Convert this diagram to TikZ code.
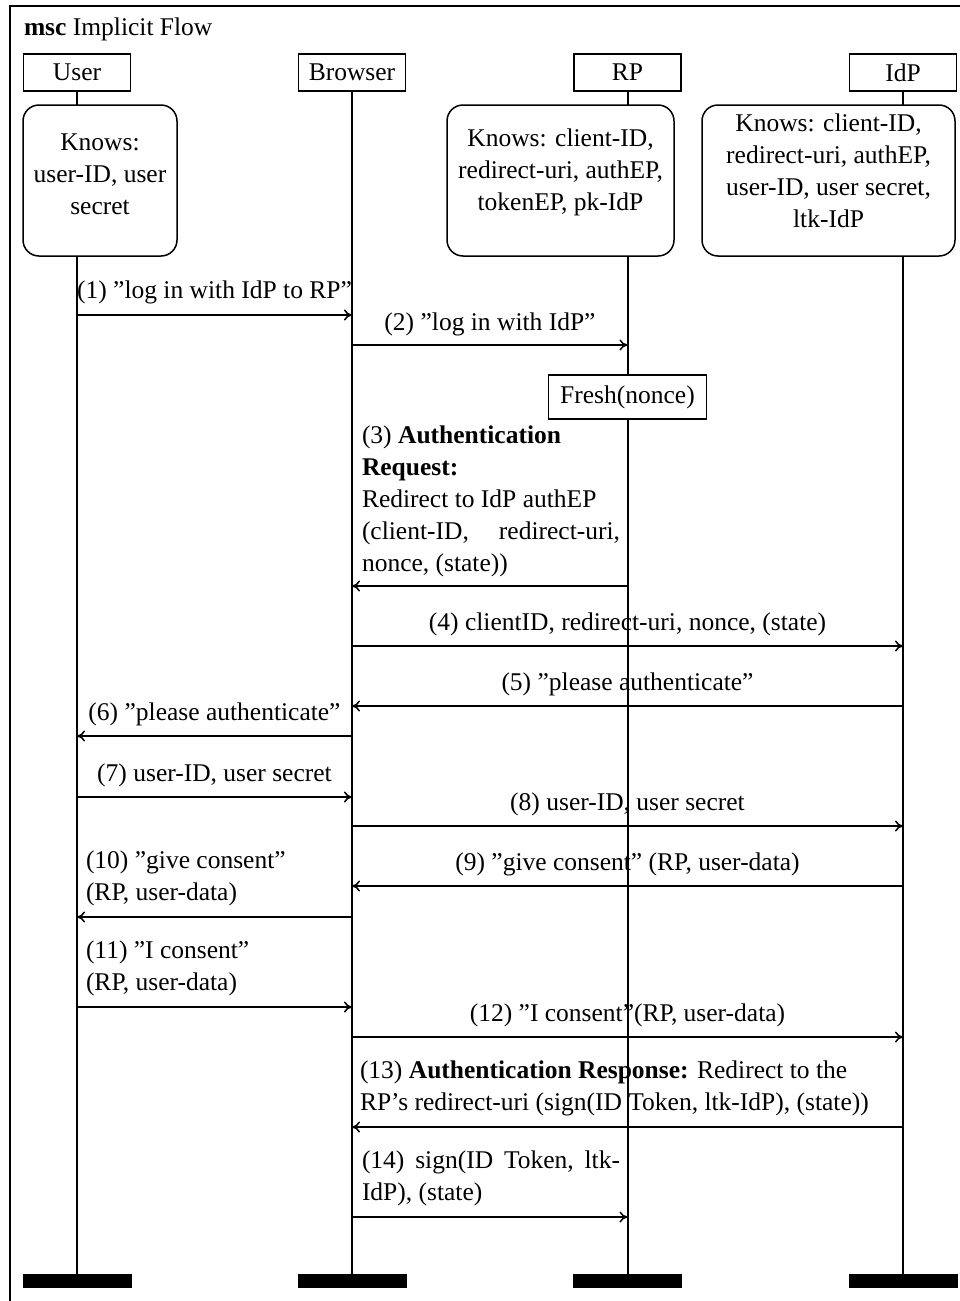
\documentclass[tikz,border=0pt]{standalone}
\usepackage{fontspec}
\setmainfont{Liberation Serif}
\usetikzlibrary{arrows.meta,calc}
\begin{document}
\begin{tikzpicture}[x=1pt,y=-1pt,
  every node/.style={font=\fontsize{25.5}{32}\selectfont, inner sep=0pt, outer sep=0pt},
  actor/.style={draw, line width=1.5pt, minimum width=107pt, minimum height=37pt, fill=white},
  knows/.style={draw, line width=1.5pt, rounded corners=16pt, minimum height=151pt},
  endbar/.style={fill=black, minimum width=109pt, minimum height=14pt},
  life/.style={line width=2pt},
  msg/.style={line width=1.5pt, -{Computer Modern Rightarrow[length=8pt,width=11pt]}},
  lbl/.style={anchor=base},
  mlbl/.style={anchor=base west, align=flush left},
  knowstext/.style={anchor=base, align=flush center}
]
\useasboundingbox (0,0) rectangle (960,1301);

% outer frame and title
\draw[line width=1.5pt] (10,1301) -- (10,6) -- (961,6);
\node[anchor=base west] (title) at (24,35) {\textbf{msc} Implicit Flow};

% instance heads
\node[actor] (user)    at (77,72.5)    {User};
\node[actor] (browser) at (352,72.5)   {Browser};
\node[actor] (rp)      at (627.5,72.5) {RP};
\node[actor] (idp)     at (903,72.5)   {IdP};

% knowledge boxes
\node[knows, minimum width=154pt] (userk) at (100,180.5) {};
\node[knows, minimum width=227pt] (rpk)   at (560.5,180.5) {};
\node[knows, minimum width=253pt] (idpk)  at (828.5,180.5) {};
\node[knowstext, text width=150pt] (userkt) at (100,150) {Knows:\\user-ID, user\\secret};
\node[knowstext, text width=225pt] (rpkt) at (560.5,146) {Knows: client-ID,\\redirect-uri, authEP,\\tokenEP, pk-IdP};
\node[knowstext, text width=250pt] (idpkt) at (828.5,131) {Knows: client-ID,\\redirect-uri, authEP,\\user-ID, user secret,\\ltk-IdP};

% local action
\node[draw, line width=1.5pt, fill=white, minimum width=158pt, minimum height=44pt] (fresh) at (627.5,397) {Fresh(nonce)};

% instance ends
\node[endbar] (userend)    at (77,1281)    {};
\node[endbar] (browserend) at (352,1281)   {};
\node[endbar] (rpend)      at (627.5,1281) {};
\node[endbar] (idpend)     at (903,1281)   {};

% lifelines
\draw[life] (user.south) -- (userk.north -| user);
\draw[life] (userk.south -| user) -- (userend.north);
\draw[life] (browser.south) -- (browserend.north);
\draw[life] (rp.south) -- (rpk.north -| rp);
\draw[life] (rpk.south -| rp) -- (fresh.north);
\draw[life] (fresh.south) -- (rpend.north);
\draw[life] (idp.south) -- (idpk.north -| idp);
\draw[life] (idpk.south -| idp) -- (idpend.north);

% message heights
\coordinate (m1) at (0,315);
\coordinate (m2) at (0,345);
\coordinate (m3) at (0,586);
\coordinate (m4) at (0,646);
\coordinate (m5) at (0,706);
\coordinate (m6) at (0,736);
\coordinate (m7) at (0,797);
\coordinate (m8) at (0,826);
\coordinate (m9) at (0,886);
\coordinate (m10) at (0,917);
\coordinate (m11) at (0,1007);
\coordinate (m12) at (0,1037);
\coordinate (m13) at (0,1127);
\coordinate (m14) at (0,1217);

% messages
\draw[msg] (user |- m1) -- (browser |- m1);
\draw[msg] (browser |- m2) -- (rp |- m2);
\draw[msg] (rp |- m3) -- (browser |- m3);
\draw[msg] (browser |- m4) -- (idp |- m4);
\draw[msg] (idp |- m5) -- (browser |- m5);
\draw[msg] (browser |- m6) -- (user |- m6);
\draw[msg] (user |- m7) -- (browser |- m7);
\draw[msg] (browser |- m8) -- (idp |- m8);
\draw[msg] (idp |- m9) -- (browser |- m9);
\draw[msg] (browser |- m10) -- (user |- m10);
\draw[msg] (user |- m11) -- (browser |- m11);
\draw[msg] (browser |- m12) -- (idp |- m12);
\draw[msg] (idp |- m13) -- (browser |- m13);
\draw[msg] (browser |- m14) -- (rp |- m14);

% message labels
\node[lbl] (l1) at (214.5,298) {(1) ”log in with IdP to RP”};
\node[lbl] (l2) at (490,330) {(2) ”log in with IdP”};
\node[mlbl, text width=258pt] (l3) at (362,443)
  {(3) \textbf{Authentication}\\\textbf{Request:}\\Redirect to IdP authEP\\(client-ID, \hfill redirect-uri,\\nonce, (state))};
\node[lbl] (l4) at (627.5,630) {(4) clientID, redirect-uri, nonce, (state)};
\node[lbl] (l5) at (627.5,690) {(5) ”please authenticate”};
\node[lbl] (l6) at (214.5,720) {(6) ”please authenticate”};
\node[lbl] (l7) at (214.5,781) {(7) user-ID, user secret};
\node[lbl] (l8) at (627.5,810) {(8) user-ID, user secret};
\node[lbl] (l9) at (627.5,870) {(9) ”give consent” (RP, user-data)};
\node[mlbl, text width=260pt] (l10) at (86,868) {(10) ”give consent”\\(RP, user-data)};
\node[mlbl, text width=260pt] (l11) at (86,958) {(11) ”I consent”\\(RP, user-data)};
\node[lbl] (l12) at (627.5,1021) {(12) ”I consent”(RP, user-data)};
\node[mlbl, text width=540pt] (l13) at (360,1078)
  {(13) \textbf{Authentication Response:} Redirect to the\\RP’s redirect-uri (sign(ID Token, ltk-IdP), (state))};
\node[mlbl, text width=258pt] (l14) at (362,1168)
  {(14) \hfill sign(ID \hfill Token, \hfill ltk-\\IdP), (state)};
\end{tikzpicture}
\end{document}
